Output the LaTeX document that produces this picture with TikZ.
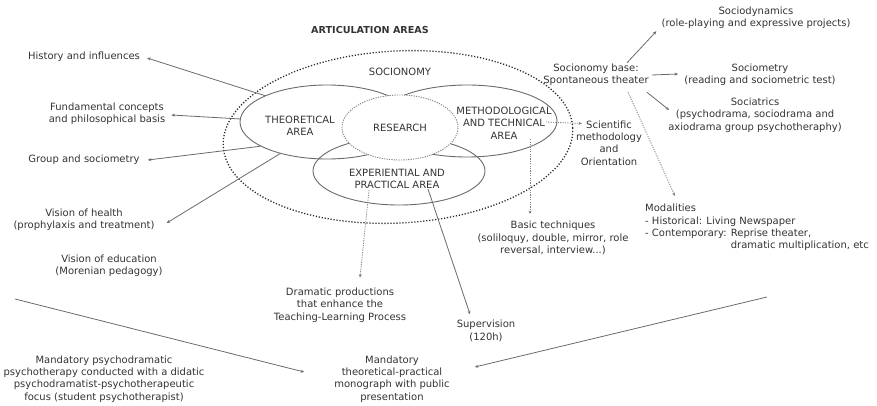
\documentclass[tikz,border=0pt]{standalone}
\usepackage{fontspec}
\setmainfont{DejaVu Sans}
\usetikzlibrary{shapes.geometric,arrows.meta,calc}
\definecolor{txtc}{HTML}{333333}
\definecolor{linec}{HTML}{6A6A6A}
\definecolor{dotc}{HTML}{2A2A2A}
\definecolor{ldotc}{HTML}{808080}
\begin{document}
\begin{tikzpicture}[x=1pt,y=-1pt,
  txt/.style={inner sep=0pt, align=center, text=txtc, font=\fontsize{10}{12.3}\selectfont},
  ell/.style={ellipse, draw=linec, line width=0.9pt, inner sep=0pt},
  arr/.style={draw=linec, line width=0.8pt, -{Stealth[length=3.5pt,width=3pt]}},
  darr/.style={arr, draw=ldotc, dash pattern=on 1.2pt off 1.2pt},
  bigdot/.style={draw=dotc, line width=1.3pt, dash pattern=on 1.2pt off 1.8pt},
]
\useasboundingbox (0,0) rectangle (877,406);

% big dotted ellipse
\draw[bigdot, rotate around={3:(398,137)}] (398,137) ellipse [x radius=175, y radius=86];

% solid ellipses
\node[ell, minimum width=174pt, minimum height=74pt] (theo) at (327,122) {};
\node[ell, minimum width=180pt, minimum height=72pt] (meth) at (467,121) {};
\node[ell, minimum width=172pt, minimum height=68pt] (expa) at (399,171) {};
\node[ellipse, fill=white, draw=ldotc, line width=0.9pt, dash pattern=on 1.2pt off 1.2pt,
      minimum width=116pt, minimum height=65pt, inner sep=0pt, text=txtc,
      font=\fontsize{10}{12.3}\selectfont] (res) at (400,127.5) {RESEARCH};

% texts inside
\node[txt, font=\bfseries\fontsize{9.6}{12.2}\selectfont] (title) at (370,30) {ARTICULATION AREAS};
\node[txt] (socio) at (400,72) {SOCIONOMY};
\node[txt] (theotext) at (300,126) {THEORETICAL\\AREA};
\node[txt] (methtext) at (504,123) {METHODOLOGICAL\\AND TECHNICAL\\AREA};
\node[txt] (exptext) at (397,179) {EXPERIENTIAL AND\\PRACTICAL AREA};

% left labels
\node[txt] (hist) at (84,57) {History and influences};
\node[txt] (fund) at (107,114) {Fundamental concepts\\and philosophical basis};
\node[txt] (group) at (84,160) {Group and sociometry};
\node[txt] (health) at (84,220) {Vision of health\\(prophylaxis and treatment)};
\node[txt] (edu) at (109,266) {Vision of education\\(Morenian pedagogy)};
\node[txt] (mand) at (104,379) {Mandatory psychodramatic\\psychotherapy conducted with a didatic\\psychodramatist-psychotherapeutic\\focus (student psychotherapist)};

% bottom labels
\node[txt] (drama) at (340,305) {Dramatic productions\\that enhance the\\Teaching-Learning Process};
\node[txt] (mono) at (392,379) {Mandatory\\theoretical-practical\\monograph with public\\presentation};
\node[txt] (superv) at (486,331) {Supervision\\(120h)};
\node[txt] (basic) at (553,238) {Basic techniques\\(soliloquy, double, mirror, role\\reversal, interview...)};
\node[txt, align=left, anchor=west] (mod) at (645,227.5) {Modalities\\- Historical: Living Newspaper\\- Contemporary: Reprise theater,\\\phantom{- Contemporary: }dramatic multiplication, etc};

% right labels
\node[txt] (base) at (596,75) {Socionomy base:\\Spontaneous theater};
\node[txt] (dyn) at (756,18) {Sociodynamics\\(role-playing and expressive projects)};
\node[txt] (metry) at (760,75) {Sociometry\\(reading and sociometric test)};
\node[txt] (iatr) at (755,115) {Sociatrics\\(psychodrama, sociodrama and\\axiodrama group psychotheraphy)};
\node[txt] (sci) at (609,143) {Scientific\\methodology\\and\\Orientation};

% connectors
\draw[arr] (theo.157) -- ($(hist.east)+(7,1)$);
\draw[arr] (theo.178) -- ($(fund.east)+(6,1)$);
\draw[arr] (theo.200) -- ($(group.east)+(8,0)$);
\draw[arr] (theo.214) -- ($(health.east)+(12,3)$);

\draw[darr] ($(exptext.south)+(-28,1)$) -- ($(drama.north)+(20,-10)$);
\draw[arr] ($(exptext.south)+(31,0)$) -- ($(superv.north)+(-16,-6)$);
\draw[darr] ($(methtext.south)+(26,0)$) -- ($(basic.north)+(-23,-7)$);
\draw[darr] ($(methtext.east)+(-6,-1)$) -- ($(sci.north)+(-27,3)$);
\draw[darr] ($(base.south)+(32,6)$) -- ($(mod.north west)+(30,-8)$);

\draw[arr] ($(base.north)+(31,-1)$) -- ($(dyn.south west)+(-5,2)$);
\draw[arr] ($(base.east)+(3,0)$) -- ($(metry.west)+(-6,-1)$);
\draw[arr] ($(base.south east)+(-2,6)$) -- ($(iatr.west)+(1,-5)$);

\coordinate (bl) at (15,299);
\coordinate (br) at (767,297);
\draw[arr] (bl) -- ($(mono.west)+(-30,-7)$);
\draw[arr] (br) -- ($(mono.east)+(25,-12)$);
\end{tikzpicture}
\end{document}
